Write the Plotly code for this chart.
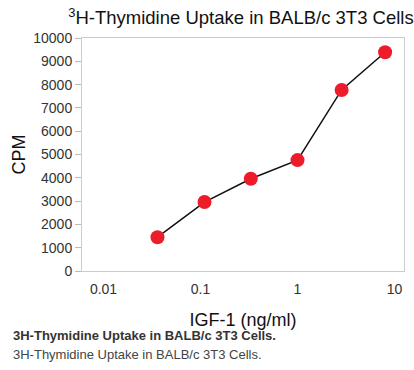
import plotly.graph_objects as go

igf1_ng_ml = [0.036, 0.11, 0.33, 1.0, 2.85, 8.0]
cpm = [1450, 2960, 3960, 4760, 7770, 9390]

y_ticks = [0, 1000, 2000, 3000, 4000, 5000, 6000, 7000, 8000, 9000, 10000]
y_tick_labels = [str(v) for v in y_ticks]
x_ticks = [0.01, 0.1, 1, 10]
x_tick_labels = ["0.01", "0.1", "1", "10"]

title_text = "<sup>3</sup>H-Thymidine Uptake in BALB/c 3T3 Cells"
caption_bold = "3H-Thymidine Uptake in BALB/c 3T3 Cells."
caption_plain = "3H-Thymidine Uptake in BALB/c 3T3 Cells."

FONT = "Liberation Sans, Arial, Helvetica, sans-serif"

fig = go.Figure()
fig.add_trace(go.Scatter(
    x=igf1_ng_ml, y=cpm, mode="lines+markers",
    line=dict(color="#111111", width=1.5),
    marker=dict(color="#ec1c2a", size=14, line=dict(width=0)),
    showlegend=False,
))

fig.update_layout(
    width=414, height=370,
    margin=dict(l=82, r=10, t=38, b=99),
    paper_bgcolor="white", plot_bgcolor="white",
    font=dict(family=FONT, color="#222222", size=14),
    title=dict(text=title_text, x=241 / 414, xanchor="center", y=1 - 18 / 370, yanchor="middle",
               font=dict(size=18.5, color="#111111")),
    xaxis=dict(
        type="log", range=[-2.222, 1.098], automargin=False,
        tickvals=x_ticks, ticktext=x_tick_labels,
        ticks="outside", ticklen=5, tickcolor="rgba(0,0,0,0)",
        showgrid=False, zeroline=False,
        showline=True, linecolor="#cccccc", linewidth=1, mirror=True,
        tickfont=dict(size=14, color="#333333"),
        title=dict(text="IGF-1 (ng/ml)", font=dict(size=18, color="#111111"), standoff=17),
    ),
    yaxis=dict(
        range=[0, 10000], tickvals=y_ticks, ticktext=y_tick_labels, automargin=False,
        ticks="outside", ticklen=6, tickcolor="#bbbbbb",
        showgrid=False, zeroline=False,
        showline=True, linecolor="#cccccc", linewidth=1, mirror=True,
        tickfont=dict(size=14, color="#333333"),
        title=dict(text="CPM", font=dict(size=18, color="#111111"), standoff=2),
    ),
    annotations=[
        dict(text="<b>" + caption_bold + "</b>", xref="paper", yref="paper",
             x=0, y=0, xanchor="left", yanchor="middle", xshift=-71, yshift=-64,
             showarrow=False, font=dict(size=13, color="#333333")),
        dict(text=caption_plain, xref="paper", yref="paper",
             x=0, y=0, xanchor="left", yanchor="middle", xshift=-71, yshift=-83,
             showarrow=False, font=dict(size=13, color="#444444")),
    ],
)

fig.write_html("out.html", config={"displayModeBar": False},
               post_script="document.body.style.margin='0';")
